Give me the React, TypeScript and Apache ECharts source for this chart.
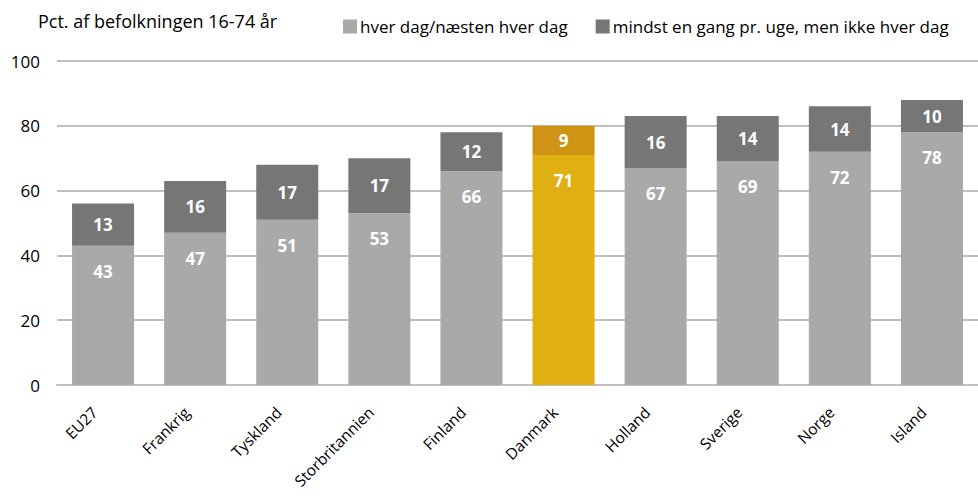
import React, { useEffect, useRef } from "react";
import * as echarts from "echarts";

const categories = ["EU27", "Frankrig", "Tyskland", "Storbritannien", "Finland", "Danmark", "Holland", "Sverige", "Norge", "Island"];
const daily = [43, 47, 51, 53, 66, 71, 67, 69, 72, 78];
const weekly = [13, 16, 17, 17, 12, 9, 16, 14, 14, 10];
const seriesNames = ["hver dag/næsten hver dag", "mindst en gang pr. uge, men ikke hver dag"];
const yTicks = [0, 20, 40, 60, 80, 100];
const highlight = "Danmark";

const FONT = "Open Sans";

export default function App() {
  const ref = useRef<HTMLDivElement>(null);
  useEffect(() => {
    const chart = echarts.init(ref.current!, null, { renderer: "svg" });
    const lightColor = "#a9a9a9";
    const darkColor = "#767676";
    const hlLight = "#e0b012";
    const hlDark = "#d09414";
    chart.setOption({
      animation: false,
      textStyle: { fontFamily: FONT },
      graphic: [
        {
          type: "text",
          left: 38,
          top: 12,
          style: { text: "Pct. af befolkningen 16-74 år", fontSize: 18, fontFamily: FONT, fill: "#000" },
        },
      ],
      legend: {
        top: 13,
        left: 338,
        itemWidth: 14,
        itemHeight: 14,
        itemGap: 28,
        icon: "rect",
        textStyle: { fontSize: 17, fontFamily: FONT, color: "#000", padding: [0, 0, 0, -2] },
        data: seriesNames,
      },
      grid: { left: 57, top: 61, width: 928, height: 324 },
      xAxis: {
        type: "category",
        data: categories,
        axisTick: { show: false },
        axisLine: { lineStyle: { color: "#bfbfbf", width: 2 } },
        axisLabel: {
          rotate: 45,
          fontSize: 15.5,
          color: "#000",
          margin: 16,
          padding: [0, 12, 0, 0],
          fontFamily: FONT,
        },
      },
      yAxis: {
        type: "value",
        min: 0,
        max: 100,
        interval: 20,
        axisLabel: {
          fontSize: 17,
          color: "#000",
          margin: 17,
          fontFamily: FONT,
          formatter: (v: number) => (yTicks.includes(v) ? String(v) : ""),
        },
        splitLine: { lineStyle: { color: "#bfbfbf", width: 2 } },
        axisLine: { show: false },
        axisTick: { show: false },
      },
      series: [
        {
          name: seriesNames[0],
          type: "bar",
          stack: "a",
          barWidth: 62,
          itemStyle: { color: lightColor },
          data: daily.map((v, i) => ({
            value: v,
            itemStyle: { color: categories[i] === highlight ? hlLight : lightColor },
          })),
          label: {
            show: true,
            position: "insideTop",
            distance: 17,
            color: "#fff",
            fontWeight: "bold",
            fontSize: 17,
            fontFamily: FONT,
          },
        },
        {
          name: seriesNames[1],
          type: "bar",
          stack: "a",
          barWidth: 62,
          itemStyle: { color: darkColor },
          data: weekly.map((v, i) => ({
            value: v,
            itemStyle: { color: categories[i] === highlight ? hlDark : darkColor },
          })),
          label: {
            show: true,
            position: "inside",
            color: "#fff",
            fontWeight: "bold",
            fontSize: 17,
            fontFamily: FONT,
          },
        },
      ],
    });
    return () => chart.dispose();
  }, []);
  return (
    <div
      ref={ref}
      style={{ position: "absolute", left: 0, top: 0, width: 978, height: 499, background: "#fff" }}
    />
  );
}
